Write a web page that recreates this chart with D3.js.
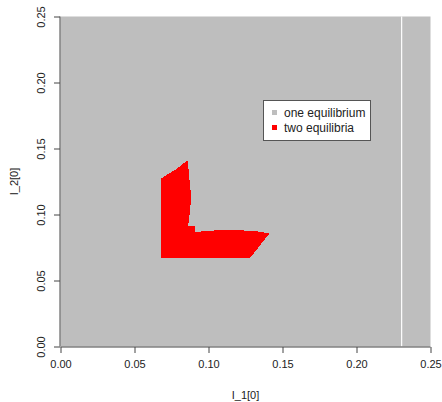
<!DOCTYPE html>
<html>
<head>
<meta charset="utf-8">
<script src="https://cdn.jsdelivr.net/npm/d3@7"></script>
<style>
  html, body { margin: 0; padding: 0; background: #fff; }
  svg { display: block; }
  text { font-family: "Liberation Sans", Arial, sans-serif; fill: #222; }
</style>
</head>
<body>
<svg id="chart" width="442" height="402"></svg>
<script>
// Parameter ranges for the initial values I_1[0] and I_2[0]
const xDomain = [0, 0.25];
const yDomain = [0, 0.25];
const xTicks = [0, 0.05, 0.10, 0.15, 0.20, 0.25];
const yTicks = [0, 0.05, 0.10, 0.15, 0.20, 0.25];

// Boundary of the region with two equilibria (I_1[0], I_2[0])
const twoEqX = [0.0679, 0.0679, 0.0706, 0.0740, 0.0780, 0.0814, 0.0851, 0.0861, 0.0868, 0.0882,
                0.0878, 0.0868, 0.0861, 0.0909, 0.0909, 0.1030, 0.1089, 0.1258, 0.1348, 0.1411, 0.1280];
const twoEqY = [0.0670, 0.1273, 0.1292, 0.1315, 0.1341, 0.1372, 0.1404, 0.1402, 0.1303, 0.1151,
                0.1060, 0.0961, 0.0910, 0.0910, 0.0868, 0.0878, 0.0885, 0.0878, 0.0870, 0.0855, 0.0670];

// Column of the grid with no result
const missingCol = [0.2301, 0.2309];

const legendLabels = ["one equilibrium", "two equilibria"];
const legendColors = ["#bebebe", "#ff0000"];

const svg = d3.select("#chart");
const x = d3.scaleLinear().domain(xDomain).range([60.5, 430.5]);
const y = d3.scaleLinear().domain(yDomain).range([346.5, 16.5]);

// background: one equilibrium everywhere else
svg.append("rect")
  .attr("x", x(xDomain[0])).attr("y", y(yDomain[1]))
  .attr("width", x(xDomain[1]) - x(xDomain[0]))
  .attr("height", y(yDomain[0]) - y(yDomain[1]))
  .attr("fill", legendColors[0]);

svg.append("rect")
  .attr("x", x(missingCol[0])).attr("y", y(yDomain[1]))
  .attr("width", x(missingCol[1]) - x(missingCol[0]))
  .attr("height", y(yDomain[0]) - y(yDomain[1]))
  .attr("fill", "#fff");

const pts = twoEqX.map((d, i) => [d, twoEqY[i]]);
svg.append("path")
  .attr("d", d3.line().x(d => x(d[0])).y(d => y(d[1]))(pts) + "Z")
  .attr("fill", legendColors[1])
  .attr("shape-rendering", "crispEdges");

// axes
const fmt = d3.format(".2f");
const xAxis = svg.append("g").attr("transform", `translate(0,${y(0) + 0.5})`)
  .call(d3.axisBottom(x).tickValues(xTicks).tickFormat(fmt).tickSize(6).tickPadding(7));
const yAxis = svg.append("g").attr("transform", `translate(${x(0) - 0.5},0)`)
  .call(d3.axisLeft(y).tickValues(yTicks).tickFormat(fmt).tickSize(6).tickPadding(7));
[xAxis, yAxis].forEach(g => {
  g.selectAll(".domain").attr("stroke", "#444");
  g.selectAll(".tick line").attr("stroke", "#444");
  g.selectAll("text").style("font-size", "11px").style("font-family", "'Liberation Sans', Arial, sans-serif").attr("fill", "#222");
});
// plain axis lines spanning first to last tick
xAxis.select(".domain").attr("d", `M${x(0)},0H${x(0.25)}`);
yAxis.select(".domain").attr("d", `M0,${y(0)}V${y(0.25)}`);
yAxis.selectAll(".tick text")
  .attr("text-anchor", "middle")
  .attr("transform", "rotate(-90)")
  .attr("x", 0).attr("y", -19).attr("dy", "0.35em");

svg.append("text").attr("x", x(0.125)).attr("y", 399).attr("text-anchor", "middle")
  .style("font-size", "11px").text("I_1[0]");
svg.append("text").attr("transform", `translate(18,${y(0.125)}) rotate(-90)`)
  .attr("text-anchor", "middle").style("font-size", "11px").text("I_2[0]");

// legend
const lg = svg.append("g");
lg.append("rect").attr("x", 263.5).attr("y", 100.5).attr("width", 107).attr("height", 40)
  .attr("fill", "#fff").attr("stroke", "#555").attr("stroke-width", 1);
legendLabels.forEach((lab, i) => {
  const cy = 112.5 + i * 15;
  lg.append("rect").attr("x", 272).attr("y", cy - 2.5).attr("width", 5).attr("height", 5).attr("fill", legendColors[i]);
  lg.append("text").attr("x", 284).attr("y", cy + 4.3).style("font-size", "12px").text(lab);
});
</script>
</body>
</html>
